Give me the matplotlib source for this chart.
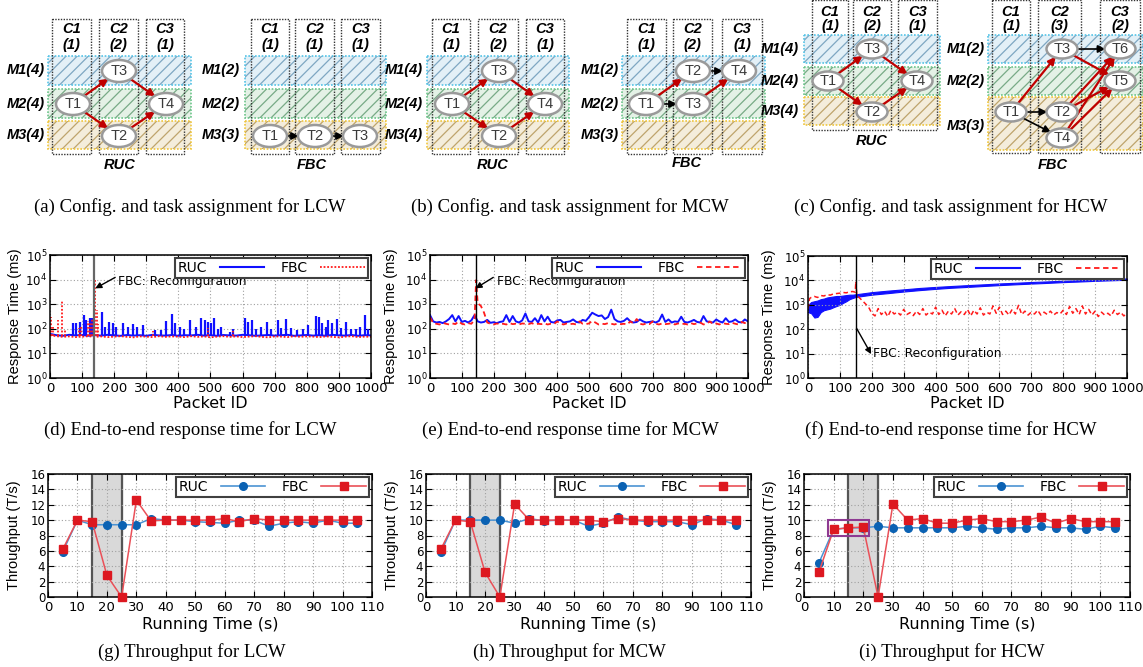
import matplotlib
matplotlib.use("Agg")
import matplotlib.pyplot as plt
from matplotlib.patches import Rectangle, Ellipse, FancyArrowPatch
from matplotlib.lines import Line2D
from matplotlib.ticker import LogLocator, NullFormatter

plt.rcParams["font.family"] = ["DejaVu Sans"]
plt.rcParams["mathtext.fontset"] = "dejavusans"
plt.rcParams["hatch.linewidth"] = 0.9
SANS = "Liberation Sans"
SERIF = "Liberation Serif"

W, H = 1143, 667

# ---------------- throughput (T/s), one sample every 5 s ----------------
tp_time = [5, 10, 15, 20, 25, 30, 35, 40, 45, 50, 55, 60, 65, 70, 75, 80, 85, 90, 95, 100, 105]
tp_lcw_ruc = [5.9, 10.0, 9.4, 9.4, 9.4, 9.4, 10.2, 10.0, 10.0, 9.8, 9.7, 9.6, 10.0, 10.0, 9.2, 9.6, 9.8, 9.6, 10.0, 9.6, 9.6]
tp_lcw_fbc = [6.2, 10.0, 9.8, 2.8, 0.0, 12.6, 9.9, 10.0, 10.0, 10.0, 10.0, 10.2, 9.8, 10.2, 10.0, 10.0, 10.0, 10.0, 10.0, 10.0, 10.0]
tp_mcw_ruc = [5.8, 10.0, 10.0, 10.0, 10.0, 9.6, 10.2, 9.9, 10.0, 10.0, 9.2, 9.6, 10.4, 10.0, 9.8, 9.8, 9.8, 9.4, 10.2, 10.0, 9.4]
tp_mcw_fbc = [6.2, 10.0, 9.8, 3.2, 0.0, 12.1, 10.0, 10.0, 10.0, 10.0, 10.0, 9.8, 10.2, 10.0, 10.0, 10.0, 10.0, 10.0, 10.0, 10.0, 10.0]
tp_hcw_ruc = [4.4, 8.8, 9.0, 9.0, 9.2, 9.0, 9.0, 9.0, 9.0, 9.0, 9.2, 9.0, 8.8, 9.0, 9.0, 9.2, 9.0, 9.0, 8.8, 9.2, 9.0]
tp_hcw_fbc = [3.2, 8.8, 9.0, 9.1, 0.0, 12.1, 10.0, 10.2, 9.6, 9.6, 10.0, 10.2, 9.8, 9.8, 10.0, 10.4, 9.6, 10.2, 9.8, 9.8, 9.8]
reconf_window = (15, 25)          # shaded reconfiguration interval (s)
hcw_box_t, hcw_box_v = (8, 22), (8, 10)   # highlighted region in (i)

# ---------------- response time (ms) ----------------
rt_x20 = list(range(0, 1001, 20))
lcw_ruc_base = [62, 55, 52, 57, 54, 56, 52, 55, 53, 57, 54, 52, 56, 53, 55, 52, 57, 54, 53, 56, 52, 55, 54, 57, 53, 55,
                52, 56, 54, 53, 57, 55, 52, 54, 56, 53, 55, 57, 52, 54, 56, 53, 55, 52, 57, 54, 53, 56, 52, 55, 54]
lcw_fbc_base = [55, 50, 47, 49, 46, 48, 50, 47, 49, 46, 48, 50, 47, 45, 49, 48, 46, 50, 47, 49, 48, 46, 50, 47, 49, 45,
                48, 50, 47, 49, 46, 48, 50, 47, 45, 49, 48, 46, 50, 47, 49, 48, 46, 49, 47, 45, 48, 50, 46, 48, 47]
lcw_floor = 50
lcw_ruc_spk_x = [72, 82, 92, 106, 113, 124, 132, 162, 170, 184, 196, 207, 227, 243, 258, 272, 290, 326, 347, 362,
                 381, 388, 404, 417, 435, 456, 469, 482, 492, 503, 511, 523, 534, 560, 570, 606, 617, 629, 643, 658,
                 677, 690, 710, 721, 736, 752, 768, 788, 804, 828, 837, 848, 859, 866, 877, 895, 908, 923, 937, 954,
                 965, 980, 990]
lcw_ruc_spk_y = [177, 177, 195, 365, 229, 267, 267, 500, 122, 195, 167, 122, 177, 122, 157, 122, 142, 89, 89, 214,
                 387, 167, 122, 95, 229, 122, 267, 229, 195, 167, 267, 95, 122, 76, 95, 267, 195, 229, 95, 122,
                 195, 95, 229, 105, 244, 105, 89, 95, 142, 331, 293, 167, 122, 229, 167, 244, 105, 195, 95, 95,
                 122, 365, 95]
lcw_fbc_spk_x = [4, 10, 24, 36, 48, 90, 96, 118, 126, 131, 139, 146, 150, 320, 493, 571]
lcw_fbc_spk_y = [300, 120, 230, 1400, 100, 110, 120, 200, 190, 260, 9500, 600, 150, 80, 105, 85]
lcw_reconf = 137

mcw_x10 = list(range(0, 1001, 10))
mcw_ruc = [360, 200, 180, 190, 170, 200, 250, 360, 200, 330, 190, 210, 180, 220, 360, 200, 180, 190, 230, 175,
           185, 170, 190, 200, 360, 190, 330, 200, 180, 220, 420, 200, 190, 270, 180, 360, 200, 310, 190, 180,
           220, 230, 180, 190, 200, 240, 190, 180, 230, 210, 300, 450, 380, 330, 350, 250, 300, 600, 250, 200,
           190, 210, 270, 200, 180, 190, 240, 200, 180, 190, 200, 180, 210, 380, 190, 240, 180, 200, 190, 310,
           190, 180, 200, 230, 190, 180, 330, 200, 190, 180, 240, 200, 180, 270, 190, 200, 240, 190, 180, 240, 200]
mcw_fbc_x = list(range(0, 141, 10)) + [145] + list(range(150, 1001, 10))
mcw_fbc = [300, 170, 160, 150, 175, 160, 150, 165, 155, 200, 160, 150, 170, 160, 230, 9500, 1100, 850, 450, 180,
           160, 150, 165, 155, 160, 150, 170, 155, 160, 150, 165, 160, 155, 170, 150, 160, 155, 165, 150, 160,
           155, 200, 160, 150, 165, 155, 160, 150, 200, 160, 155, 165, 210, 180, 150, 160, 155, 170, 160, 150,
           165, 155, 160, 150, 200, 165, 250, 160, 150, 165, 155, 200, 160, 150, 165, 155, 160, 170, 150, 165,
           155, 160, 150, 170, 155, 165, 180, 150, 160, 200, 155, 165, 150, 170, 160, 155, 175, 160, 150, 190,
           170, 230]
mcw_reconf = 145

hcw_ruc_x = [0, 10, 20, 30, 40, 50, 60, 70, 80, 90, 100, 110, 120, 130, 140, 150,
             200, 250, 300, 350, 400, 450, 500, 550, 600, 650, 700, 750, 800, 850, 900, 950, 1000]
hcw_ruc_lo = [500, 450, 300, 320, 500, 600, 650, 700, 800, 900, 1000, 1200, 1400, 1700, 1900, 2100,
              2600, 3000, 3500, 4000, 4500, 5000, 5400, 5900, 6400, 6900, 7400, 7900, 8500, 9000, 9600, 10100, 10600]
hcw_ruc_hi = [1000, 1300, 1400, 1500, 1700, 1800, 2000, 2100, 2200, 2300, 2300, 2400, 2500, 2600, 2600, 2700,
              3300, 3800, 4300, 4900, 5400, 5900, 6400, 6900, 7500, 8000, 8600, 9100, 9700, 10200, 10800, 11400, 12000]
hcw_fbc_x = [0, 5, 10, 20, 30, 40, 50, 60, 70, 80, 90, 100, 110, 120, 130, 140, 148, 150, 153, 160, 170, 180, 190] \
    + list(range(200, 1001, 10))
hcw_fbc = [700, 1800, 2000, 2200, 2000, 2400, 2300, 2600, 2500, 2800, 2900, 3000, 3200, 3100, 3400, 3500, 3300,
           9000, 2600, 2000, 1500, 1100, 800,
           450, 350, 700, 400, 550, 330, 600, 420, 500, 380, 650, 400, 480, 360, 550, 400, 700, 380, 500, 420,
           800, 400, 600, 350, 550, 420, 700, 380, 520, 400, 650, 350, 600, 420, 750, 380, 500, 420, 900, 450,
           800, 400, 550, 380, 650, 420, 950, 400, 550, 380, 500, 420, 600, 380, 500, 400, 550, 380, 480, 420,
           600, 400, 850, 450, 700, 400, 900, 420, 650, 380, 550, 330, 500, 380, 450, 350, 600, 400, 500, 350, 450]
hcw_reconf = 151

# ---------------- configuration diagrams (pixel layout) ----------------
BAND_STYLE = [("#e3f0f7", "#7ea7c2", "#55c3e6"),
              ("#e4f1e6", "#78aa86", "#6cc58a"),
              ("#f4eddb", "#bea46c", "#f0c63c")]
ROW_A = [(56, 85), (89, 118), (121, 149)]
ROW_C = [(35, 63), (67, 95), (97, 125)]
panels = [
    dict(cols=[(52, 91), (99, 138), (146, 184)], col_y=(19, 154), col_lab=["(1)", "(2)", "(1)"], lab_y=(29, 45),
         band_x=(48, 191), band_y=ROW_A, rows=["M1(4)", "M2(4)", "M3(4)"], row_x=45, row_y=[70, 104, 135],
         ell=(34, 22), tasks={"T1": (73, 104), "T3": (119, 71), "T4": (166, 104), "T2": (119, 136)},
         edges=[("T1", "T3", "r"), ("T1", "T2", "r"), ("T3", "T4", "r"), ("T2", "T4", "r")], title=("RUC", 120, 165)),
    dict(cols=[(251, 289), (295, 334), (341, 380)], col_y=(19, 154), col_lab=["(1)", "(1)", "(1)"], lab_y=(29, 45),
         band_x=(245, 386), band_y=ROW_A, rows=["M1(2)", "M2(2)", "M3(3)"], row_x=240, row_y=[70, 104, 135],
         ell=(34, 22), tasks={"T1": (270, 136), "T2": (315, 136), "T3": (360, 136)},
         edges=[("T1", "T2", "k"), ("T2", "T3", "k")], title=("FBC", 312, 165)),
    dict(cols=[(432, 470), (478, 518), (526, 564)], col_y=(19, 154), col_lab=["(1)", "(2)", "(1)"], lab_y=(29, 45),
         band_x=(427, 569), band_y=ROW_A, rows=["M1(4)", "M2(4)", "M3(4)"], row_x=423, row_y=[70, 104, 135],
         ell=(34, 22), tasks={"T1": (452, 104), "T3": (499, 71), "T4": (545, 104), "T2": (499, 136)},
         edges=[("T1", "T3", "r"), ("T1", "T2", "r"), ("T3", "T4", "r"), ("T2", "T4", "r")], title=("RUC", 493, 165)),
    dict(cols=[(627, 666), (673, 712), (722, 762)], col_y=(19, 154), col_lab=["(1)", "(2)", "(1)"], lab_y=(29, 45),
         band_x=(622, 765), band_y=ROW_A, rows=["M1(2)", "M2(2)", "M3(3)"], row_x=619, row_y=[70, 104, 135],
         ell=(34, 22), tasks={"T1": (646, 104), "T3": (693, 104), "T2": (693, 71), "T4": (739, 71)},
         edges=[("T1", "T2", "r"), ("T1", "T3", "k"), ("T2", "T4", "k"), ("T3", "T4", "r")], title=("FBC", 687, 163)),
    dict(cols=[(812, 848), (853, 891), (898, 937)], col_y=(0, 130), col_lab=["(1)", "(2)", "(1)"], lab_y=(12, 26),
         band_x=(804, 940), band_y=ROW_C, rows=["M1(4)", "M2(4)", "M3(4)"], row_x=799, row_y=[49, 81, 111],
         ell=(31, 19), tasks={"T1": (828, 81), "T3": (872, 49), "T4": (917, 81), "T2": (872, 112)},
         edges=[("T1", "T3", "r"), ("T1", "T2", "r"), ("T3", "T4", "r"), ("T2", "T4", "r")], title=("RUC", 872, 141)),
    dict(cols=[(992, 1030), (1038, 1081), (1100, 1140)], col_y=(0, 153), col_lab=["(1)", "(3)", "(2)"], lab_y=(12, 26),
         band_x=(988, 1143), band_y=[(35, 63), (67, 95), (97, 150)], rows=["M1(2)", "M2(2)", "M3(3)"], row_x=985,
         row_y=[49, 81, 126], ell=(31, 19),
         tasks={"T1": (1011, 112), "T2": (1062, 112), "T4": (1062, 138), "T3": (1062, 49), "T6": (1120, 49), "T5": (1120, 81)},
         edges=[("T1", "T3", "r"), ("T1", "T2", "k"), ("T1", "T4", "k"), ("T3", "T6", "k"), ("T3", "T5", "r"),
                ("T2", "T6", "r"), ("T2", "T5", "r"), ("T4", "T6", "r"), ("T4", "T5", "r")], title=("FBC", 1053, 165)),
]

captions = [(190, 207, "(a) Config. and task assignment for LCW"), (570, 207, "(b) Config. and task assignment for MCW"),
            (951, 207, "(c) Config. and task assignment for HCW"),
            (190, 430, "(d) End-to-end response time for LCW"), (570, 430, "(e) End-to-end response time for MCW"),
            (951, 430, "(f) End-to-end response time for HCW"),
            (192, 652, "(g) Throughput for LCW"), (569, 652, "(h) Throughput for MCW"), (952, 652, "(i) Throughput for HCW")]

BLUE, RED = "#1010ff", "#ff1a1a"
TP_BLUE, TP_BLUE_L = "#0b62b3", "#4b93d3"
TP_RED, TP_RED_L = "#dd1820", "#ea5058"
BIT = dict(fontfamily=SANS, fontweight="bold", fontstyle="italic", fontsize=10.5)


def rect(l, t, r, b):
    return [l / W, 1 - b / H, (r - l) / W, (b - t) / H]


def draw_config(ax, p):
    x0, x1 = p["band_x"]
    for (y0, y1), (face, hatch, edge) in zip(p["band_y"], BAND_STYLE):
        ax.add_patch(Rectangle((x0, y0), x1 - x0, y1 - y0, facecolor=face, edgecolor=hatch, hatch="///", lw=0, zorder=1))
        ax.add_patch(Rectangle((x0, y0), x1 - x0, y1 - y0, fill=False, edgecolor=edge, ls=(0, (1, 1)), lw=1.2, zorder=2))
    cy0, cy1 = p["col_y"]
    for i, ((c0, c1), cap) in enumerate(zip(p["cols"], p["col_lab"])):
        ax.add_patch(Rectangle((c0, cy0), c1 - c0, cy1 - cy0, fill=False, edgecolor="#333333",
                               ls=(0, (1, 1)), lw=1.0, zorder=3))
        ax.text((c0 + c1) / 2, p["lab_y"][0], f"C{i + 1}", ha="center", va="center", **BIT)
        ax.text((c0 + c1) / 2, p["lab_y"][1], cap, ha="center", va="center", **BIT)
    for lab, y in zip(p["rows"], p["row_y"]):
        ax.text(p["row_x"], y, lab, ha="right", va="center", **BIT)
    ells = {}
    w, h = p["ell"]
    for name, (x, y) in p["tasks"].items():
        e = Ellipse((x, y), w, h, facecolor="white", edgecolor="#9a9a9a", lw=1.8, zorder=5)
        ax.add_patch(e); ells[name] = e
        ax.text(x, y, name, ha="center", va="center", fontfamily=SANS, fontsize=10.5, color="#3a3a3a", zorder=6)
    for a, b, c in p["edges"]:
        red = c == "r"
        ax.add_patch(FancyArrowPatch(p["tasks"][a], p["tasks"][b], patchA=ells[a], patchB=ells[b],
                                     arrowstyle="-|>", mutation_scale=11, lw=1.6 if red else 1.2,
                                     color="#c00000" if red else "black", shrinkA=0, shrinkB=0, zorder=4))
    t, x, y = p["title"]
    ax.text(x, y, t, ha="center", va="center", **BIT)


def style_axes(ax, xlab, ylab):
    ax.grid(True, which="major", color="#a0a0a0", ls=(0, (1, 2)), lw=0.8)
    ax.tick_params(which="both", direction="in", top=True, right=True, labelsize=9.5, pad=3, length=4)
    ax.tick_params(which="minor", length=2)
    ax.tick_params(axis="y", labelsize=8.5, pad=2)
    for s in ax.spines.values():
        s.set_linewidth(1.1)
    ax.set_xlabel(xlab, fontsize=11.5)
    ax.set_ylabel(ylab, fontfamily=SANS, fontsize=10.5)


def place_labels(ax, l, t, r, b, ylab_x, xlab_y):
    # ylab_x: centre of the rotated y label, xlab_y: top of the x label (pixels)
    ax.yaxis.set_label_coords((ylab_x + 4 - l) / (r - l), 0.5)
    ax.xaxis.set_label_coords(0.5, (b - xlab_y) / (b - t))


def legend(ax, handles):
    lg = ax.legend(handles, ["RUC", "FBC"], loc="upper right", ncol=2, markerfirst=False, fontsize=10,
                   handlelength=3.2, handletextpad=0.9, columnspacing=1.2, borderpad=0.2, borderaxespad=0.25,
                   fancybox=False, framealpha=1, numpoints=1)
    lg.get_frame().set_edgecolor("#404040"); lg.get_frame().set_linewidth(1.5)


def rt_axes(box, ylab_x):
    ax = fig.add_axes(rect(*box))
    ax.set_yscale("log")
    ax.set_xlim(0, 1000); ax.set_ylim(1, 1e5)
    ax.set_xticks(range(0, 1001, 100)); ax.set_yticks([1, 10, 100, 1e3, 1e4, 1e5])
    ax.yaxis.set_minor_locator(LogLocator(base=10, subs=range(2, 10)))
    ax.yaxis.set_minor_formatter(NullFormatter())
    style_axes(ax, "Packet ID", "Response Time (ms)")
    place_labels(ax, *box, ylab_x, 396)
    return ax


def reconf_note(ax, tail, head, txt_xy):
    ax.annotate("", xy=head, xytext=tail,
                arrowprops=dict(arrowstyle="-|>", color="black", lw=1.0, mutation_scale=9, shrinkA=0, shrinkB=0))
    ax.text(*txt_xy, "FBC: Reconfiguration", ha="left", va="center", fontsize=8.8)


def tp_axes(box, ylab_x, ruc, fbc, extra_box=False):
    ax = fig.add_axes(rect(*box))
    ax.set_xlim(0, 110); ax.set_ylim(0, 16)
    ax.set_xticks(range(0, 111, 10)); ax.set_yticks(range(0, 17, 2))
    ax.axvspan(*reconf_window, color="#d9d9d9", zorder=0)
    for v in reconf_window:
        ax.axvline(v, color="#555555", lw=1.6, zorder=1)
    ax.plot(tp_time, ruc, color=TP_BLUE_L, lw=1.1, marker="o", ms=5.5, mfc=TP_BLUE, mec=TP_BLUE, clip_on=False, zorder=3)
    ax.plot(tp_time, fbc, color=TP_RED_L, lw=1.1, marker="s", ms=6, mfc=TP_RED, mec=TP_RED, clip_on=False, zorder=4)
    if extra_box:
        ax.add_patch(Rectangle((hcw_box_t[0], hcw_box_v[0]), hcw_box_t[1] - hcw_box_t[0],
                               hcw_box_v[1] - hcw_box_v[0], fill=False, edgecolor="#8e3a92", lw=1.5, zorder=5))
    style_axes(ax, "Running Time (s)", "Throughput (T/s)")
    place_labels(ax, *box, ylab_x, 617)
    legend(ax, [Line2D([], [], color=TP_BLUE_L, lw=1.2, marker="o", ms=5.5, mfc=TP_BLUE, mec=TP_BLUE),
                Line2D([], [], color=TP_RED_L, lw=1.2, marker="s", ms=6, mfc=TP_RED, mec=TP_RED)])
    return ax


fig = plt.figure(figsize=(W / 100, H / 100), dpi=100)

# diagrams and captions live on a pixel-coordinate canvas
dax = fig.add_axes([0, 0, 1, 1])
dax.set_xlim(0, W); dax.set_ylim(H, 0); dax.axis("off")
for p in panels:
    draw_config(dax, p)
for x, y, s in captions:
    dax.text(x, y, s, ha="center", va="center", fontfamily=SERIF, fontsize=13.5)

DOT, DASH = (0, (1, 1)), (0, (3, 2))

# (d) LCW response time
ax = rt_axes((50, 255, 371, 378), 18)
ax.plot(rt_x20, lcw_ruc_base, color=BLUE, lw=1.4)
ax.vlines(lcw_ruc_spk_x, lcw_floor, lcw_ruc_spk_y, color=BLUE, lw=1.6)
ax.plot(rt_x20, lcw_fbc_base, color=RED, lw=1.3, ls=DOT)
ax.vlines(lcw_fbc_spk_x, lcw_floor, lcw_fbc_spk_y, color=RED, lw=1.3, ls=DOT)
ax.axvline(lcw_reconf, color="#666666", lw=1.6)
reconf_note(ax, (203, 12300), (141, 4400), (212, 8100))
legend(ax, [Line2D([], [], color=BLUE, lw=1.5), Line2D([], [], color=RED, lw=1.3, ls=DOT)])

# (e) MCW response time
ax = rt_axes((430, 255, 748, 378), 394)
ax.plot(mcw_x10, mcw_ruc, color=BLUE, lw=1.4)
ax.plot(mcw_fbc_x, mcw_fbc, color=RED, lw=1.3, ls=DASH)
ax.axvline(mcw_reconf, color="black", lw=1.0)
reconf_note(ax, (199, 12300), (143, 4400), (210, 8100))
legend(ax, [Line2D([], [], color=BLUE, lw=1.5), Line2D([], [], color=RED, lw=1.3, ls=DASH)])

# (f) HCW response time
ax = rt_axes((808, 256, 1127, 378), 772)
ax.fill_between(hcw_ruc_x, hcw_ruc_lo, hcw_ruc_hi, color=BLUE, lw=0.8)
ax.plot(hcw_fbc_x, hcw_fbc, color=RED, lw=1.1, ls=DASH)
ax.axvline(hcw_reconf, color="black", lw=1.0)
reconf_note(ax, (152, 110), (198, 9.5), (205, 10))
legend(ax, [Line2D([], [], color=BLUE, lw=1.5), Line2D([], [], color=RED, lw=1.3, ls=DASH)])

# (g)-(i) throughput
tp_axes((48, 474, 372, 597), 17, tp_lcw_ruc, tp_lcw_fbc)
tp_axes((426, 474, 751, 597), 395, tp_mcw_ruc, tp_mcw_fbc)
tp_axes((804, 474, 1130, 597), 773, tp_hcw_ruc, tp_hcw_fbc, extra_box=True)

fig.savefig("out.png", dpi=100)
